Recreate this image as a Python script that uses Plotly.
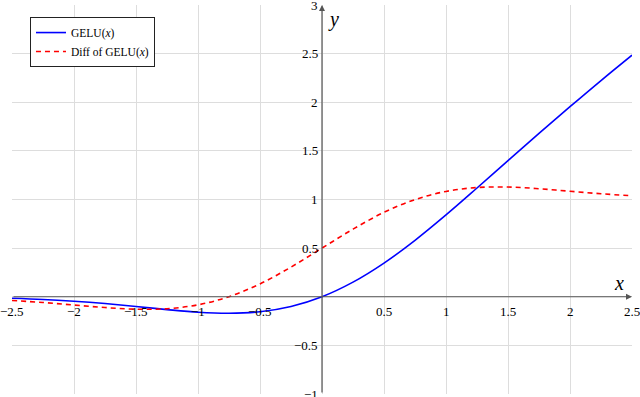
import plotly.graph_objects as go

# values
x_vals = [-2.5, -2.25, -2.0, -1.75, -1.5, -1.25, -1.0, -0.75, -0.5, -0.25, 0.0,
          0.25, 0.5, 0.75, 1.0, 1.25, 1.5, 1.75, 2.0, 2.25, 2.5]
gelu = [-0.016, -0.028, -0.046, -0.070, -0.100, -0.132, -0.159, -0.170, -0.154, -0.100, 0.0,
        0.150, 0.346, 0.580, 0.841, 1.118, 1.400, 1.680, 1.954, 2.223, 2.484]
gelu_diff = [-0.038, -0.059, -0.085, -0.111, -0.128, -0.123, -0.083, 0.001, 0.132, 0.305, 0.5,
             0.695, 0.868, 0.999, 1.083, 1.123, 1.128, 1.111, 1.085, 1.059, 1.038]

x_ticks = [-2.5, -2, -1.5, -1, -0.5, 0.5, 1, 1.5, 2, 2.5]
x_tick_text = ["\u22122.5", "\u22122", "\u22121.5", "\u22121", "\u22120.5", "0.5", "1", "1.5", "2", "2.5"]
y_ticks = [-1, -0.5, 0.5, 1, 1.5, 2, 2.5, 3]
y_tick_text = ["\u22121", "\u22120.5", "0.5", "1", "1.5", "2", "2.5", "3"]

serif = "Liberation Serif, DejaVu Serif, serif"
axis_col = "#555555"

fig = go.Figure()
fig.add_trace(go.Scatter(x=x_vals, y=gelu, mode="lines", name="GELU(<i>x</i>)",
                         line=dict(color="#0000ff", width=1.6, shape="spline")))
fig.add_trace(go.Scatter(x=x_vals, y=gelu_diff, mode="lines", name="Diff of GELU(<i>x</i>)",
                         line=dict(color="#ff0000", width=1.6, dash="5px,4px", shape="spline")))

annos = []
for v, t in zip(x_ticks, x_tick_text):
    annos.append(dict(x=v, y=0, text=t, showarrow=False, yshift=-15,
                      font=dict(family=serif, size=13, color="black")))
for v, t in zip(y_ticks, y_tick_text):
    annos.append(dict(x=0, y=v, text=t, showarrow=False, xanchor="right", xshift=-2,
                      font=dict(family=serif, size=13, color="black")))
# axis arrows
annos.append(dict(x=2.5, y=0, ax=-2.5, ay=0, axref="x", ayref="y", xref="x", yref="y",
                  showarrow=True, arrowhead=2, arrowsize=1, arrowwidth=1.2, arrowcolor=axis_col, text=""))
annos.append(dict(x=0, y=3, ax=0, ay=-1, axref="x", ayref="y", xref="x", yref="y",
                  showarrow=True, arrowhead=2, arrowsize=1, arrowwidth=1.2, arrowcolor=axis_col, text=""))
annos.append(dict(x=2.5, y=0, text="<i>x</i>", showarrow=False, xanchor="right", yanchor="bottom",
                  xshift=-6, yshift=1, font=dict(family=serif, size=20, color="black")))
annos.append(dict(x=0, y=3, text="<i>y</i>", showarrow=False, xanchor="left", yanchor="top",
                  xshift=4, yshift=-1, font=dict(family=serif, size=20, color="black")))

fig.update_layout(
    width=640, height=397,
    margin=dict(l=12, r=8, t=5, b=3),
    paper_bgcolor="white", plot_bgcolor="white",
    showlegend=True,
    legend=dict(x=0.029, y=0.969, xanchor="left", yanchor="top",
                bordercolor="#222222", borderwidth=1, bgcolor="white",
                font=dict(family=serif, size=11.5, color="black"),
                itemwidth=30, tracegroupgap=0),
    annotations=annos,
)
fig.update_xaxes(range=[-2.5, 2.5], tickvals=[-2.5, -2, -1.5, -1, -0.5, 0, 0.5, 1, 1.5, 2, 2.5],
                 showticklabels=False, showgrid=True, gridcolor="#dddddd", gridwidth=1,
                 zeroline=False, showline=False, fixedrange=True)
fig.update_yaxes(range=[-1, 3], tickvals=[-1, -0.5, 0, 0.5, 1, 1.5, 2, 2.5, 3],
                 showticklabels=False, showgrid=True, gridcolor="#dddddd", gridwidth=1,
                 zeroline=False, showline=False, fixedrange=True)

# drop the page's default body margin so the figure sits at the window corner
fig.write_html("out.html", config={"displayModeBar": False},
               post_script="document.body.style.margin='0';")
